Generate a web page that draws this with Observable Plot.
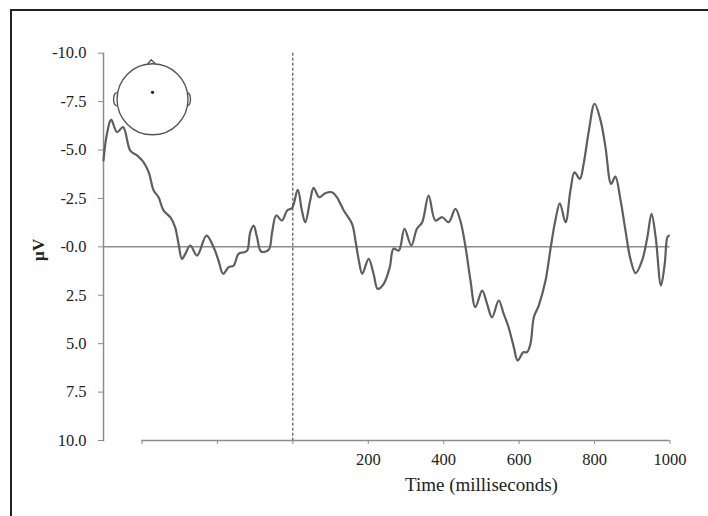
<!DOCTYPE html>
<html><head><meta charset="utf-8">
<script src="https://cdn.jsdelivr.net/npm/d3@7"></script>
<script src="https://cdn.jsdelivr.net/npm/@observablehq/plot@0.6"></script>
<style>html,body{margin:0;padding:0;background:#fff} svg{display:block}</style>
</head><body><div id="chart"></div>
<script>
const timeMs = [
  -502,-495,-484,-481,-466,-450,-431,-413,-396,-382,
  -369,-356,-343,-325,-312,-303,-294,-285,-272,-254,
  -229,-210,-197,-185,-170,-157,-144,-130,-121,-113,
  -104,-95,-84,-64,-55,-44,-29,-15,-2,
  13,24,33,46,55,70,86,104,117,135,
  157,166,175,184,201,214,225,241,257,267,
  281,296,314,329,343,360,378,396,413,431,
  444,458,471,484,502,515,528,546,559,572,
  586,596,611,621,630,639,652,670,684,696,
  708,723,736,747,761,771,785,800,816,829,
  844,855,869,882,895,909,926,940,951,962,
  976,986,993,997
];
const amplitudeUV = [
  -4.46,-5.6,-6.52,-6.56,-5.92,-6.18,-4.97,-4.72,-4.37,-3.85,
  -2.91,-2.56,-1.88,-1.53,-1.01,-0.15,0.62,0.36,-0.07,0.45,
  -0.58,0.02,0.71,1.39,1.05,0.97,0.36,0.28,0.19,-0.75,
  -1.10,-0.50,0.24,0.15,-0.75,-1.62,-1.36,-1.88,-2.01,
  -2.94,-1.88,-1.27,-2.39,-3.05,-2.56,-2.77,-2.82,-2.56,-1.88,
  -1.19,-0.33,0.71,1.39,0.62,1.39,2.17,1.91,1.05,0.10,
  0.19,-0.93,-0.07,-0.93,-1.27,-2.65,-1.36,-1.53,-1.27,-1.96,
  -1.36,0.02,1.74,3.12,2.26,2.94,3.64,2.77,3.46,4.15,
  5.19,5.87,5.44,5.44,5.01,3.64,3.03,1.74,0.0,-1.36,
  -2.25,-1.27,-2.91,-3.85,-3.51,-4.29,-6.01,-7.39,-6.52,-5.14,
  -3.25,-3.63,-2.39,-0.84,0.62,1.36,0.71,-0.50,-1.70,-0.50,
  2.00,0.88,-0.50,-0.58
];
const yTicks = [-10, -7.5, -5, -2.5, 0, 2.5, 5, 7.5, 10];
const yTickLabels = ["-10.0", "-7.5", "-5.0", "-2.5", "-0.0", "2.5", "5.0", "7.5", "10.0"];
const xTicks = [-400, -200, 0, 200, 400, 600, 800, 1000];
const xTickLabels = ["", "", "", "200", "400", "600", "800", "1000"];
const epochStart = -502;
const xAxisStart = -400;
const xAxisEnd = 1000;
const stimulusOnset = 0;
const headCenter = [{t: -372, v: -7.62}];
const xTitle = [{t: 500, label: "Time (milliseconds)"}];
const yTitle = ["µV"];

const font = "'Liberation Serif', 'Times New Roman', serif";
const axisGray = "#8c8c8c";

const plot = Plot.plot({
  width: 708, height: 516,
  marginLeft: 103, marginRight: 38.5, marginTop: 52.7, marginBottom: 76,
  style: {fontFamily: font, fontSize: "16.5px", color: "#222", background: "#fff", overflow: "visible"},
  x: {domain: [epochStart, xAxisEnd]},
  y: {domain: [-10, 10], reverse: true},
  marks: [
    Plot.frame({anchor: "left", stroke: axisGray, strokeWidth: 1.5}),
    Plot.ruleY([10], {x1: xAxisStart, x2: xAxisEnd, stroke: axisGray, strokeWidth: 1.5}),
    Plot.ruleY([0], {x1: epochStart, x2: xAxisEnd, stroke: axisGray, strokeWidth: 1.5}),
    Plot.ruleX([stimulusOnset], {y1: -10, y2: 10, stroke: "#333", strokeDasharray: "3,2", strokeWidth: 1}),
    Plot.axisY({ticks: yTicks, tickFormat: d => yTickLabels[yTicks.indexOf(d)], tickSize: 5, tickPadding: 12, stroke: axisGray, fill: "#222", label: null}),
    Plot.axisX({ticks: xTicks, tickFormat: d => xTickLabels[xTicks.indexOf(d)], tickSize: 4, tickPadding: 9, stroke: axisGray, fill: "#222", label: null}),
    Plot.line(timeMs, {x: timeMs, y: amplitudeUV, curve: "catmull-rom", stroke: "#5e5e5e", strokeWidth: 2.2}),
    Plot.text(xTitle, {x: "t", text: "label", frameAnchor: "bottom", dy: 50, fontSize: 19, textAnchor: "middle", fill: "#222"}),
    Plot.text(yTitle, {frameAnchor: "left", dx: -64.5, dy: 3, rotate: -90, fontSize: 17, fontWeight: "bold", textAnchor: "middle", fill: "#222"}),
    Plot.dot(headCenter, {x: "t", y: "v", r: 35.5, stroke: "#555", strokeWidth: 1.4, fill: "none"}),
    Plot.dot(headCenter, {x: "t", y: "v", dy: -7, r: 1.6, fill: "#222", stroke: "none"})
  ]
});

const svg = d3.select(plot);
// head nose & ears positioned from the library's scales
const hx = plot.scale("x").apply(headCenter[0].t);
const hy = plot.scale("y").apply(headCenter[0].v);
const g = svg.append("g").attr("fill", "none").attr("stroke", "#555").attr("stroke-width", 1.4);
g.append("path").attr("d", `M${hx-4.5},${hy-34.8} L${hx-0.8},${hy-39} L${hx+3.5},${hy-34.8}`);
g.append("path").attr("d", `M${hx-35.3},${hy-6} C${hx-39.5},${hy-5} ${hx-39.5},${hy+6} ${hx-35.3},${hy+7}`);
g.append("path").attr("d", `M${hx+35.3},${hy-6} C${hx+39.5},${hy-5} ${hx+39.5},${hy+6} ${hx+35.3},${hy+7}`);
// outer figure frame (top and left edges visible)
svg.append("path").attr("d", "M11,516V10H708").attr("fill", "none").attr("stroke", "#222").attr("stroke-width", 2);

document.getElementById("chart").append(plot);
</script>
</body></html>
